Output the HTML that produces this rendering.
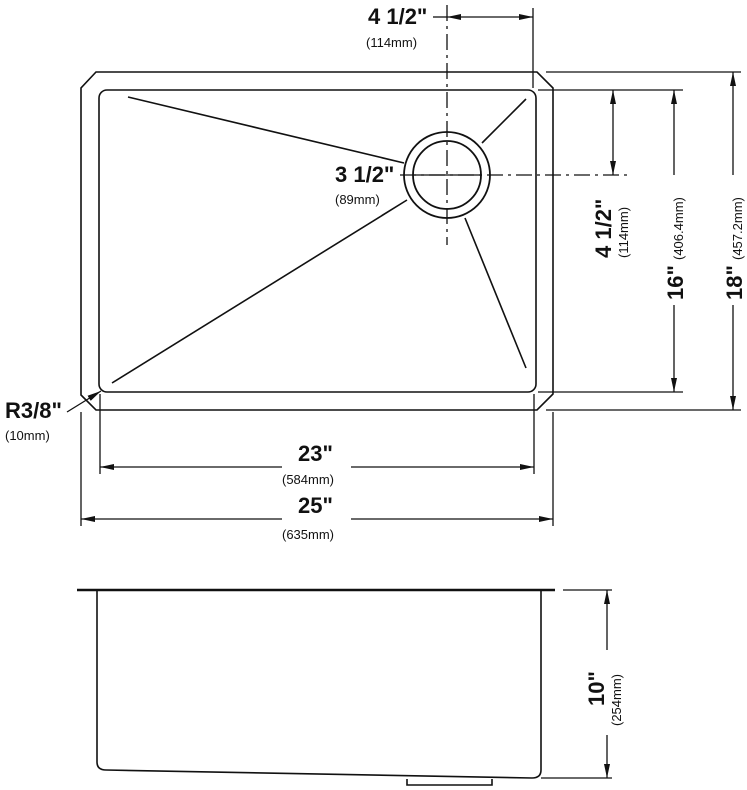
<!DOCTYPE html>
<html><head><style>
html,body{margin:0;padding:0;background:#fff;}
svg{display:block;}
text{font-family:"Liberation Sans",sans-serif;fill:#111;}
.b{font-weight:bold;font-size:22px;}
.s{font-size:13px;}
</style></head><body>
<svg width="747" height="790" viewBox="0 0 747 790" xmlns="http://www.w3.org/2000/svg">
<defs>
<marker id="a" markerWidth="14" markerHeight="6" refX="14" refY="3" orient="auto" markerUnits="userSpaceOnUse">
<path d="M0,0 L14,3 L0,6 z" fill="#111"/></marker>
</defs>
<g stroke="#111" stroke-width="1.6" fill="none">
<path d="M96,72 L537,72 L553,88 L553,394 L537,410 L96,410 L81,395 L81,88 Z"/>
<rect x="99" y="90" width="437" height="302" rx="8"/>
<circle cx="447" cy="175" r="43" stroke-width="1.8"/>
<circle cx="447" cy="175" r="34" stroke-width="1.8"/>
<line x1="128" y1="97" x2="404" y2="163"/>
<line x1="407" y1="200" x2="112" y2="383"/>
<line x1="482" y1="143" x2="526" y2="99"/>
<line x1="465" y1="218" x2="526" y2="368"/>
<line x1="447" y1="5" x2="447" y2="245" stroke-dasharray="16,5,3,5" stroke-width="1.3"/>
<line x1="400" y1="175" x2="630" y2="175" stroke-dasharray="16,5,3,5" stroke-width="1.3"/>
<line x1="413" y1="175" x2="481" y2="175" stroke-width="1.3"/>
<line x1="533" y1="8" x2="533" y2="88" stroke-width="1.3"/>
<line x1="433" y1="17" x2="447" y2="17" stroke-width="1.3"/>
<line x1="490" y1="17" x2="447" y2="17" marker-end="url(#a)" stroke-width="1.3"/>
<line x1="490" y1="17" x2="533" y2="17" marker-end="url(#a)" stroke-width="1.3"/>
<line x1="546" y1="72" x2="741" y2="72" stroke-width="1.3"/>
<line x1="538" y1="90" x2="683" y2="90" stroke-width="1.3"/>
<line x1="538" y1="392" x2="683" y2="392" stroke-width="1.3"/>
<line x1="546" y1="410" x2="741" y2="410" stroke-width="1.3"/>
<line x1="613" y1="130" x2="613" y2="90" marker-end="url(#a)" stroke-width="1.3"/>
<line x1="613" y1="130" x2="613" y2="175" marker-end="url(#a)" stroke-width="1.3"/>
<line x1="674" y1="175" x2="674" y2="90" marker-end="url(#a)" stroke-width="1.3"/>
<line x1="674" y1="305" x2="674" y2="392" marker-end="url(#a)" stroke-width="1.3"/>
<line x1="733" y1="175" x2="733" y2="72" marker-end="url(#a)" stroke-width="1.3"/>
<line x1="733" y1="305" x2="733" y2="410" marker-end="url(#a)" stroke-width="1.3"/>
<line x1="100" y1="394" x2="100" y2="474" stroke-width="1.3"/>
<line x1="534" y1="394" x2="534" y2="474" stroke-width="1.3"/>
<line x1="81" y1="412" x2="81" y2="526" stroke-width="1.3"/>
<line x1="553" y1="412" x2="553" y2="526" stroke-width="1.3"/>
<line x1="282" y1="467" x2="100" y2="467" marker-end="url(#a)" stroke-width="1.3"/>
<line x1="351" y1="467" x2="534" y2="467" marker-end="url(#a)" stroke-width="1.3"/>
<line x1="282" y1="519" x2="81" y2="519" marker-end="url(#a)" stroke-width="1.3"/>
<line x1="351" y1="519" x2="553" y2="519" marker-end="url(#a)" stroke-width="1.3"/>
<line x1="67" y1="412" x2="101" y2="391" marker-end="url(#a)" stroke-width="1.3"/>
<line x1="77" y1="590" x2="555" y2="590" stroke-width="2.4"/>
<path d="M97,591 L97,762 Q97,770 106,770 L532,778 Q541,778 541,770 L541,591"/>
<path d="M407,779 L407,785 L492,785 L492,779"/>
<line x1="563" y1="590" x2="612" y2="590" stroke-width="1.3"/>
<line x1="541" y1="778" x2="612" y2="778" stroke-width="1.3"/>
<line x1="607" y1="650" x2="607" y2="590" marker-end="url(#a)" stroke-width="1.3"/>
<line x1="607" y1="735" x2="607" y2="778" marker-end="url(#a)" stroke-width="1.3"/>
</g>
<text class="b" x="368" y="24">4 1/2"</text>
<text class="s" x="366" y="47">(114mm)</text>
<text class="b" x="335" y="182">3 1/2"</text>
<text class="s" x="335" y="204">(89mm)</text>
<text class="b" x="5" y="418">R3/8"</text>
<text class="s" x="5" y="440">(10mm)</text>
<text class="b" x="298" y="461">23"</text>
<text class="s" x="282" y="484">(584mm)</text>
<text class="b" x="298" y="513">25"</text>
<text class="s" x="282" y="539">(635mm)</text>
<g transform="translate(611,220) rotate(-90)"><text class="b" x="-38" y="0">4 1/2"</text><text class="s" x="-38" y="17">(114mm)</text></g>
<g transform="translate(683,300) rotate(-90)"><text class="b" x="0" y="0">16"</text><text class="s" x="40" y="0">(406.4mm)</text></g>
<g transform="translate(742,300) rotate(-90)"><text class="b" x="0" y="0">18"</text><text class="s" x="40" y="0">(457.2mm)</text></g>
<g transform="translate(604,732) rotate(-90)"><text class="b" x="26" y="0">10"</text><text class="s" x="6" y="17">(254mm)</text></g>
</svg>
</body></html>
